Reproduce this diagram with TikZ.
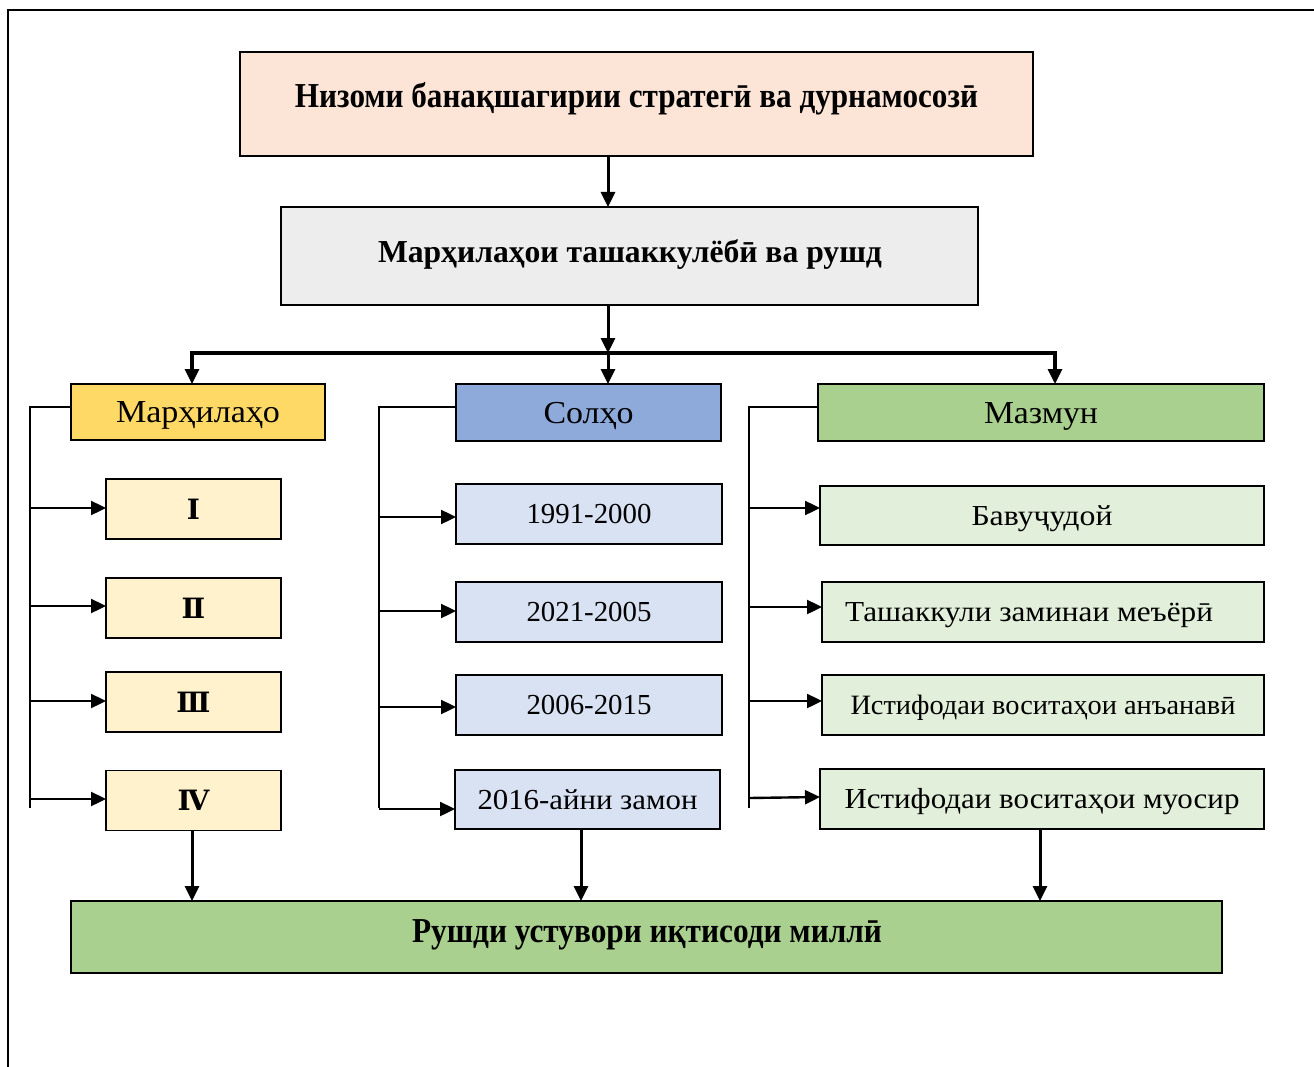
\documentclass[tikz,border=0pt]{standalone}
\usepackage{fontspec}
\setmainfont{Liberation Serif}
\newfontfamily\romfont{DejaVu Serif}
\usepackage{graphicx}
\usetikzlibrary{arrows.meta}
\newcommand{\fw}[3]{\resizebox{#1pt}{\height}{\fontsize{#2}{#2}\selectfont #3}}
\definecolor{cPeach}{HTML}{FCE4D6}
\definecolor{cGrey}{HTML}{EDEDED}
\definecolor{cGold}{HTML}{FFD966}
\definecolor{cBlue}{HTML}{8EAADB}
\definecolor{cGreen}{HTML}{A9D08E}
\definecolor{cLGold}{HTML}{FFF2CC}
\definecolor{cLBlue}{HTML}{D9E2F3}
\definecolor{cLGreen}{HTML}{E2EFDA}
\begin{document}
\begin{tikzpicture}[x=1pt,y=-1pt,
  box/.style={draw=black, line width=1.6pt, inner sep=0pt, outer sep=0pt, anchor=center, text height=20pt, text depth=0pt},
  txt/.style={inner sep=0pt, outer sep=0pt, anchor=base},
  arrT/.style={line width=3pt, -{Triangle[length=15pt,width=14pt]}},
  busline/.style={line width=3.2pt, {Triangle[length=15pt,width=14pt]}-{Triangle[length=15pt,width=14pt]}},
  brack/.style={line width=1.5pt},
  arrI/.style={line width=2.4pt, -{Triangle[length=15pt,width=14pt]}},
  frame/.style={line width=2pt}]
\useasboundingbox (0,0) rectangle (1314,1067);
% frame
\draw[frame] (8,1067) -- (8,10) -- (1314,10);
% top boxes
\node[box, fill=cPeach, minimum width=793pt, minimum height=104pt] (b1) at (636.5,104) {};
\node[txt] (t1) at (636.5,108) {\fw{683}{35}{\bfseries Низоми банақшагирии стратегӣ ва дурнамосозӣ}};
\node[box, fill=cGrey, minimum width=697pt, minimum height=98pt] (b2) at (629.5,256) {};
\node[txt] (t2) at (630,263) {\fw{504}{32}{\bfseries Марҳилаҳои ташаккулёбӣ ва рушд}};
% headers
\node[box, fill=cGold, minimum width=254pt, minimum height=56pt, text height=21pt] (m1) at (198,412) {\fw{164}{32}{Марҳилаҳо}};
\node[box, fill=cBlue, minimum width=265pt, minimum height=57pt, text height=21pt] (m2) at (588.5,412.5) {\fw{90}{32}{Солҳо}};
\node[box, fill=cGreen, minimum width=446pt, minimum height=57pt, text height=21pt] (m3) at (1041,412.5) {\fw{114}{32}{Мазмун}};
% column 1
\node[box, fill=cLGold, minimum width=175pt, minimum height=60pt] (c11) at (193.5,509) {\fontsize{28}{28}\selectfont\romfont\bfseries Ⅰ};
\node[box, fill=cLGold, minimum width=175pt, minimum height=60pt] (c12) at (193.5,608) {\fontsize{28}{28}\selectfont\romfont\bfseries Ⅱ};
\node[box, fill=cLGold, minimum width=175pt, minimum height=60pt] (c13) at (193.5,702) {\fontsize{28}{28}\selectfont\romfont\bfseries Ⅲ};
\node[box, fill=cLGold, minimum width=175pt, minimum height=60pt] (c14) at (193.5,800.5) {\fontsize{28}{28}\selectfont\romfont\bfseries Ⅳ};
% column 2
\node[box, fill=cLBlue, minimum width=266pt, minimum height=60pt, text height=19pt] (c21) at (589,514) {\fw{125}{29}{1991-2000}};
\node[box, fill=cLBlue, minimum width=266pt, minimum height=60pt, text height=19pt] (c22) at (589,612) {\fw{125}{29}{2021-2005}};
\node[box, fill=cLBlue, minimum width=266pt, minimum height=60pt, text height=19pt] (c23) at (589,705) {\fw{125}{29}{2006-2015}};
\node[box, fill=cLBlue, minimum width=265pt, minimum height=59pt, text height=19pt] (c24) at (587.5,799.5) {\fw{220}{29}{2016-айни замон}};
% column 3
\node[box, fill=cLGreen, minimum width=444pt, minimum height=59pt, text height=19pt] (c31) at (1042,515.5) {\fw{141}{29}{Бавуҷудой}};
\node[box, fill=cLGreen, minimum width=442pt, minimum height=60pt, text height=19pt] (c32) at (1043,612) {\fw{368}{29}{Ташаккули заминаи меъёрӣ}\rule{28pt}{0pt}};
\node[box, fill=cLGreen, minimum width=442pt, minimum height=60pt, text height=19pt] (c33) at (1043,705) {\fw{385}{28}{Истифодаи воситаҳои анъанавӣ}};
\node[box, fill=cLGreen, minimum width=444pt, minimum height=60pt, text height=19pt] (c34) at (1042,799) {\fw{395}{29}{Истифодаи воситаҳои муосир}};
% bottom
\node[box, fill=cGreen, minimum width=1151pt, minimum height=72pt] (bot) at (646.5,937) {};
\node[txt] (t3) at (647,942) {\fw{470}{35}{\bfseries Рушди устувори иқтисоди миллӣ}};
% coordinates
\coordinate (vx) at (608,0);
\coordinate (busL) at (192,353);
\coordinate (busR) at (1055,353);
% top arrows
\draw[arrT] (b1.south -| vx) -- (b2.north -| vx);
\draw[arrT] (b2.south -| vx) -- (busL -| vx);
\draw[busline] (busL |- m1.north) -- (busL) -- (busR) -- (busR |- m3.north);
\draw[arrT] (busL -| vx) -- (m2.north -| vx);
% brackets
\coordinate (k1t) at (30,407);  \coordinate (k1b) at (30,808);
\coordinate (k2t) at (379,407); \coordinate (k2b) at (379,808);
\coordinate (k3t) at (749,407); \coordinate (k3b) at (749,808);
\draw[brack] (k1t -| m1.west) -- (k1t) -- (k1b);
\draw[brack] (k2t -| m2.west) -- (k2t) -- (k2b);
\draw[brack] (k3t -| m3.west) -- (k3t) -- (k3b);
% item arrows
\coordinate (a11) at (30,508); \coordinate (a12) at (30,606); \coordinate (a13) at (30,701); \coordinate (a14) at (30,799);
\draw[arrI] (a11) -- (a11 -| c11.west);
\draw[arrI] (a12) -- (a12 -| c12.west);
\draw[arrI] (a13) -- (a13 -| c13.west);
\draw[arrI] (a14) -- (a14 -| c14.west);
\coordinate (a21) at (379,517); \coordinate (a22) at (379,611); \coordinate (a23) at (379,707); \coordinate (a24) at (379,809);
\draw[arrI] (a21) -- (a21 -| c21.west);
\draw[arrI] (a22) -- (a22 -| c22.west);
\draw[arrI] (a23) -- (a23 -| c23.west);
\draw[arrI] (a24) -- (a24 -| c24.west);
\coordinate (a31) at (749,508); \coordinate (a32) at (749,607); \coordinate (a33) at (749,701); \coordinate (a34) at (749,798);
\draw[arrI] (a31) -- (a31 -| c31.west);
\draw[arrI] (a32) -- (a32 -| c32.west);
\draw[arrI] (a33) -- (a33 -| c33.west);
\draw[arrI] (a34) -- ([yshift=1pt]a34 -| c34.west);
% bottom arrows
\coordinate (d1) at (192,0); \coordinate (d2) at (581,0); \coordinate (d3) at (1040,0);
\draw[arrT] (c14.south -| d1) -- (bot.north -| d1);
\draw[arrT] (c24.south -| d2) -- (bot.north -| d2);
\draw[arrT] (c34.south -| d3) -- (bot.north -| d3);
\end{tikzpicture}
\end{document}
